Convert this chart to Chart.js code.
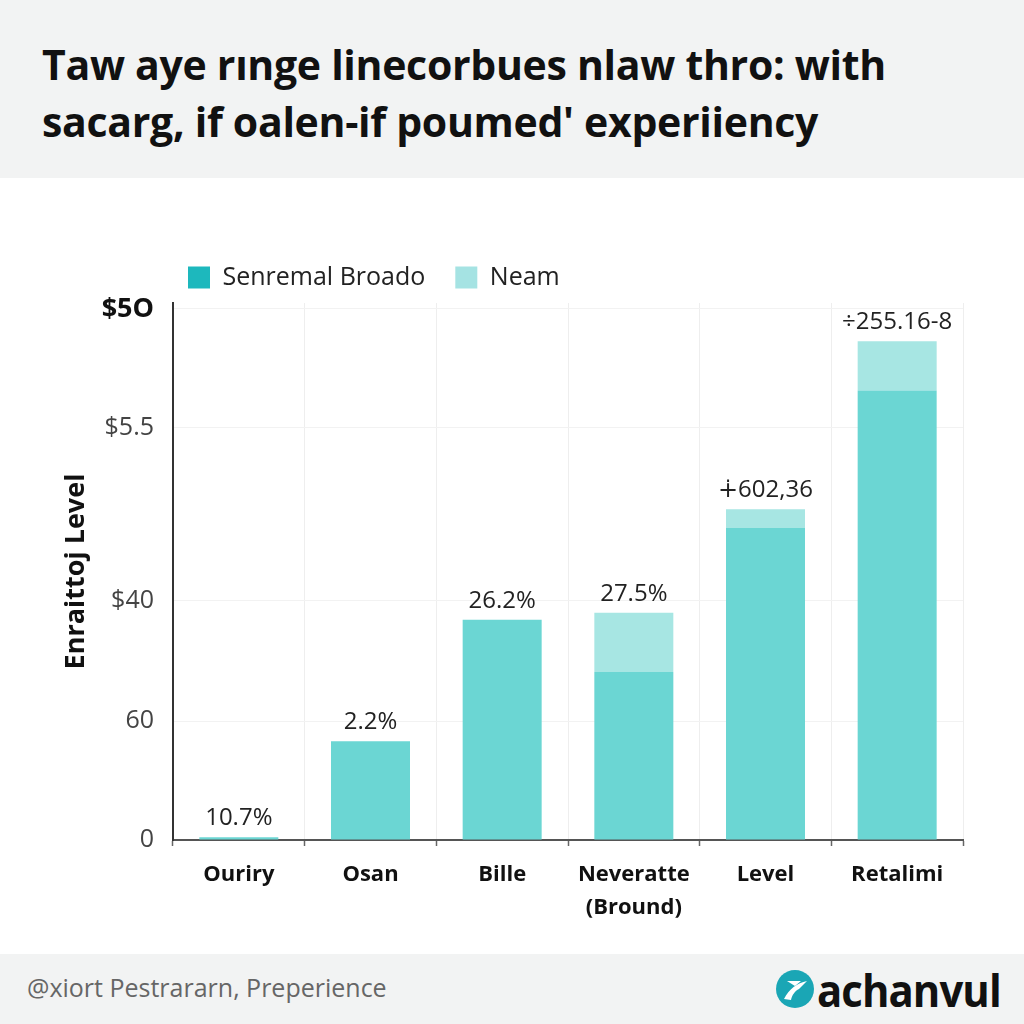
<!DOCTYPE html>
<html>
<head>
<meta charset="utf-8">
<script src="https://cdn.jsdelivr.net/npm/chart.js@4.4.1/dist/chart.umd.min.js"></script>
<style>
  html, body { margin:0; padding:0; background:#ffffff; }
  body { width:1024px; height:1024px; position:relative; overflow:hidden; font-family:"Open Sans", sans-serif; }
  #header { position:absolute; left:0; top:0; width:1024px; height:178px; background:#f2f3f3; }
  #title { position:absolute; left:42px; top:36px; font-weight:700; font-size:41px; line-height:57px; color:#111; white-space:nowrap; letter-spacing:-0.3px; }
  #chartWrap { position:absolute; left:0; top:178px; width:1024px; height:777px; }
  #footer { position:absolute; left:0; top:954px; width:1024px; height:70px; background:#f2f3f3; }
  #source { position:absolute; left:27px; top:16px; font-size:25px; color:#666; white-space:nowrap; }
  #logo { position:absolute; left:775px; top:10px; height:50px; display:flex; align-items:center; }
  #logoText { font-weight:700; font-size:45px; color:#111; letter-spacing:-1px; margin-left:2px; transform-origin:0 50%; transform:scaleX(0.93); }
</style>
</head>
<body>
<div id="header"><div id="title">Taw aye rınge linecorbues nlaw thro: with<br>sacarg, if oalen-if poumed' experiiency</div></div>
<div id="chartWrap"><canvas id="c" width="1024" height="777"></canvas></div>
<div id="footer">
  <div id="source">@xiort Pestrararn, Preperience</div>
  <div id="logo">
    <svg width="40" height="40" viewBox="0 0 40 40"><circle cx="20" cy="20" r="19" fill="#1aa6b5"/><path d="M9 30 C 14 20, 22 14, 32 12 L 24 20 C 20 22, 17 26, 16 31 Z" fill="#ffffff"/><path d="M12 12 L 26 12 L 20 17 Z" fill="#ffffff"/></svg>
    <span id="logoText">achanvul</span>
  </div>
</div>
<script>
const categories = ['Ouriry', 'Osan', 'Bille', ['Neveratte', '(Bround)'], 'Level', 'Retalimi'];
const seriesNames = ['Senremal Broado', 'Neam'];
const baseValues = [0.5, 18.4, 41.0, 31.3, 58.1, 83.7];
const topValues = [0, 0, 0, 11.0, 3.5, 9.2];
const barLabels = ['10.7%', '2.2%', '26.2%', '27.5%', '\u2214602,36', '\u00f7255.16-8'];
const yTickValues = [0, 22.1, 44.6, 76.8, 98.9];
const yTickLabels = ['0', '60', '$40', '$5.5', '$5O'];
const yAxisTitle = 'Enraittoj Level';

const barColors = ['#6bd6d3', '#a7e6e3'];
const legendColors = ['#1db8bd', '#a5e3e3'];

const legendShift = {
  id: 'legendShift',
  afterLayout(chart) {
    const lg = chart.legend;
    const pad = lg.options.labels.padding;
    const dx = 188 - (lg.left + pad);
    const dy = 87 - (lg.top + pad);
    lg.left += dx; lg.right += dx; lg.top += dy; lg.bottom += dy;
  }
};

const valueLabels = {
  id: 'valueLabels',
  afterDatasetsDraw(chart) {
    const ctx = chart.ctx;
    const meta = chart.getDatasetMeta(chart.data.datasets.length - 1);
    ctx.save();
    ctx.font = '400 24px "Open Sans"';
    ctx.fillStyle = '#222';
    ctx.textAlign = 'center';
    ctx.textBaseline = 'bottom';
    meta.data.forEach((el, i) => {
      ctx.fillText(barLabels[i], el.x, el.y - 7);
    });
    ctx.restore();
  }
};

new Chart(document.getElementById('c'), {
  type: 'bar',
  data: {
    labels: categories,
    datasets: [
      { label: seriesNames[0], data: baseValues, backgroundColor: barColors[0], barPercentage: 0.6, categoryPercentage: 1.0 },
      { label: seriesNames[1], data: topValues, backgroundColor: barColors[1], barPercentage: 0.6, categoryPercentage: 1.0 }
    ]
  },
  options: {
    responsive: false,
    animation: false,
    layout: { padding: { left: 50, right: 61, top: 60, bottom: 0 } },
    plugins: {
      legend: {
        position: 'top',
        align: 'start',
        labels: {
          boxWidth: 22, boxHeight: 22, padding: 30,
          color: '#222',
          font: { family: 'Open Sans', size: 25, weight: '400' },
          generateLabels(chart) {
            const items = Chart.defaults.plugins.legend.labels.generateLabels(chart);
            items.forEach((it, i) => { it.fillStyle = legendColors[i]; it.strokeStyle = legendColors[i]; it.lineWidth = 0; });
            return items;
          }
        }
      },
      tooltip: { enabled: false }
    },
    scales: {
      x: {
        stacked: true,
        grid: { color: '#eeeeee', tickColor: '#666', tickLength: 6, tickWidth: 1.5, offset: true },
        border: { color: '#555', width: 2 },
        ticks: { color: '#111', padding: 12, font: { family: 'Open Sans', size: 22, weight: '700', lineHeight: 1.5 } },
        afterFit(s) { s.height = 115; }
      },
      y: {
        stacked: true,
        min: 0, max: 100,
        afterBuildTicks(axis) { axis.ticks = yTickValues.map(v => ({ value: v })); },
        grid: { color: '#f2f2f2', drawTicks: false },
        border: { color: '#333', width: 2 },
        ticks: {
          padding: 19,
          callback(value, index) { return yTickLabels[index]; },
          color(ctx) { return ctx.index === yTickLabels.length - 1 ? '#111' : '#444'; },
          font(ctx) { return ctx.index === yTickLabels.length - 1 ? { family: 'Open Sans', size: 27, weight: '700' } : { family: 'Open Sans', size: 25, weight: '400' }; }
        },
        title: { display: true, text: yAxisTitle, color: '#111', padding: { top: 10, bottom: 0 }, font: { family: 'Open Sans', size: 27, weight: '700' } },
        afterFit(s) { s.width = 123; }
      }
    }
  },
  plugins: [legendShift, valueLabels]
});
</script>
</body>
</html>
